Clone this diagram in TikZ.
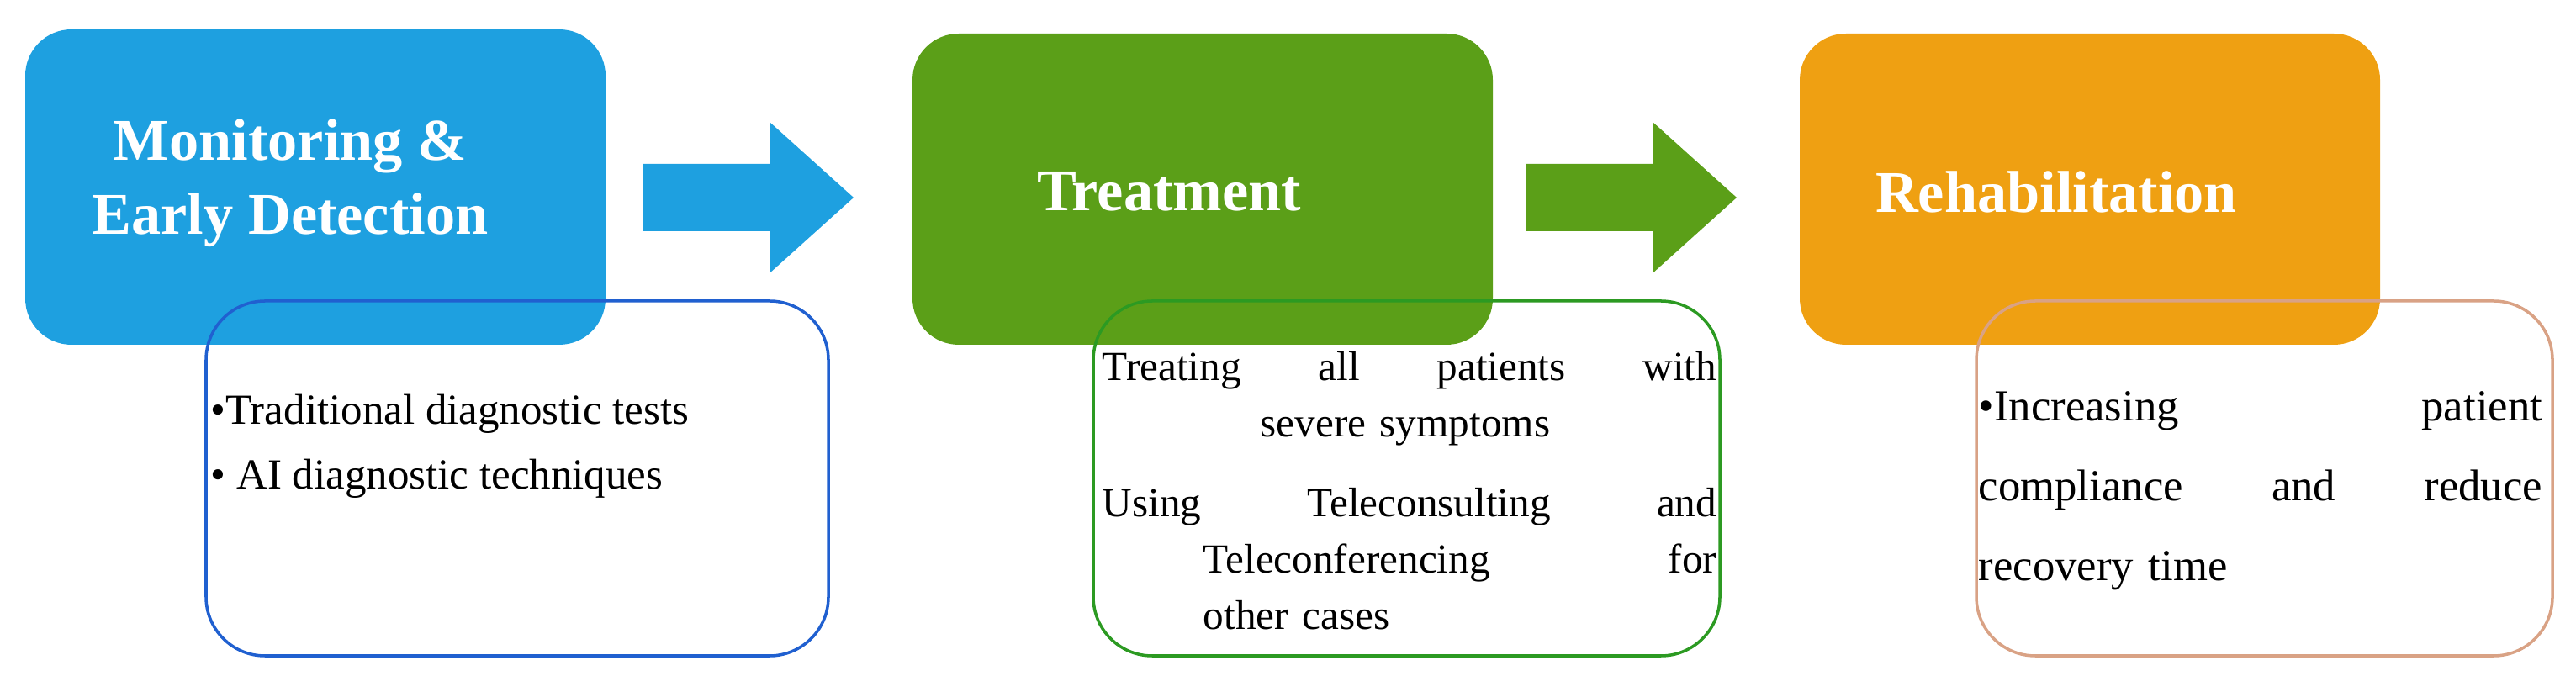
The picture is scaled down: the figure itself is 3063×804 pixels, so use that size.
\documentclass[tikz,border=0pt]{standalone}
\usepackage{fontspec}
\setmainfont{Liberation Serif}
\begin{document}
\begin{tikzpicture}[x=0.01cm,y=-0.01cm,
  sub/.style={rounded corners=0.7cm, line width=1pt, fill=none},
  title/.style={text=white, font=\bfseries\fontsize{20}{25}\selectfont, align=center},
  body/.style={anchor=north west, inner sep=0pt, font=\fontsize{14.5}{19}\selectfont, align=left}]
\useasboundingbox (0,0) rectangle (3063,804);
\definecolor{cb}{HTML}{1EA0E0}\definecolor{cg}{HTML}{5B9F18}\definecolor{co}{HTML}{EFA012}
\definecolor{lb}{HTML}{2060D0}\definecolor{lg}{HTML}{2C9A22}\definecolor{lo}{HTML}{D9A285}
% head boxes
\fill[cb, rounded corners=0.55cm] (30,35) rectangle (720,410);
\fill[cg, rounded corners=0.55cm] (1085,40) rectangle (1775,410);
\fill[co, rounded corners=0.55cm] (2140,40) rectangle (2830,410);
\node[title] (t1) at (345,218) {Monitoring \&\\Early Detection};
\node[title] (t2) at (1390,228) {Treatment};
\node[title] (t3) at (2445,228) {Rehabilitation};
% arrows
\fill[cb] (765,195) -- (915,195) -- (915,145) -- (1015,235) -- (915,325) -- (915,275) -- (765,275) -- cycle;
\fill[cg] (1815,195) -- (1965,195) -- (1965,145) -- (2065,235) -- (1965,325) -- (1965,275) -- (1815,275) -- cycle;
% sub boxes
\draw[sub, draw=lb] (245,358) rectangle (985,780);
\draw[sub, draw=lg] (1300,358) rectangle (2045,780);
\draw[sub, draw=lo] (2350,358) rectangle (3035,780);
% texts
\node[body] (s1) at (250,468) {•Traditional diagnostic tests\\[3pt]• AI diagnostic techniques};
\node[body, text width=7.3cm, font=\fontsize{14}{19}\selectfont] (s2) at (1310,418) {\makebox[7.3cm][s]{Treating\hfill all\hfill patients\hfill with}\\
\hspace*{1cm}\makebox[5.2cm][c]{severe symptoms}\\[8pt]
\makebox[7.3cm][s]{Using\hfill Teleconsulting\hfill and}\\
\hspace*{1.2cm}\makebox[6.1cm][s]{Teleconferencing\hfill for}\\
\hspace*{1.2cm}other cases};
\node[body, text width=6.7cm, font=\fontsize{15}{27}\selectfont] (s3) at (2352,465) {•Increasing\hfill patient\\ compliance\hfill and\hfill reduce\\ recovery time};
\end{tikzpicture}
\end{document}
